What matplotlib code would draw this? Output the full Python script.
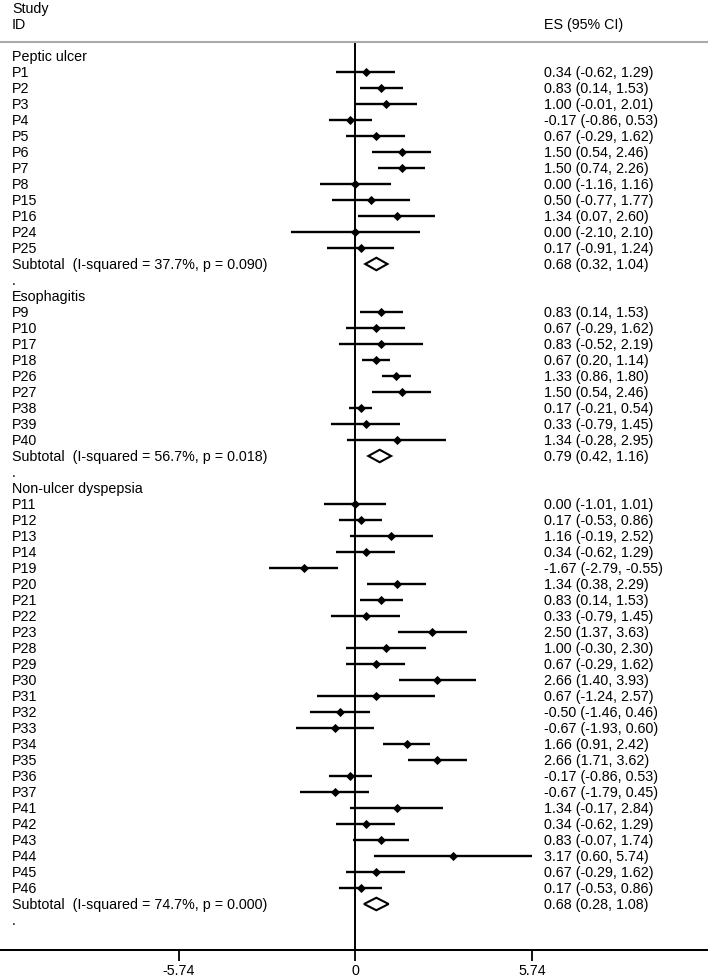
import matplotlib.pyplot as plt
from matplotlib.patches import Polygon

plt.rcParams['font.family'] = ['Liberation Sans', 'DejaVu Sans']

# groups of studies: name, ids, effect sizes, lower / upper 95% CI
group_names = ["Peptic ulcer", "Esophagitis", "Non-ulcer dyspepsia"]

pu_ids = ["P1", "P2", "P3", "P4", "P5", "P6", "P7", "P8", "P15", "P16", "P24", "P25"]
pu_es = [0.34, 0.83, 1.00, -0.17, 0.67, 1.50, 1.50, 0.00, 0.50, 1.34, 0.00, 0.17]
pu_lo = [-0.62, 0.14, -0.01, -0.86, -0.29, 0.54, 0.74, -1.16, -0.77, 0.07, -2.10, -0.91]
pu_hi = [1.29, 1.53, 2.01, 0.53, 1.62, 2.46, 2.26, 1.16, 1.77, 2.60, 2.10, 1.24]

es_ids = ["P9", "P10", "P17", "P18", "P26", "P27", "P38", "P39", "P40"]
es_es = [0.83, 0.67, 0.83, 0.67, 1.33, 1.50, 0.17, 0.33, 1.34]
es_lo = [0.14, -0.29, -0.52, 0.20, 0.86, 0.54, -0.21, -0.79, -0.28]
es_hi = [1.53, 1.62, 2.19, 1.14, 1.80, 2.46, 0.54, 1.45, 2.95]

nu_ids = ["P11", "P12", "P13", "P14", "P19", "P20", "P21", "P22", "P23", "P28",
          "P29", "P30", "P31", "P32", "P33", "P34", "P35", "P36", "P37", "P41",
          "P42", "P43", "P44", "P45", "P46"]
nu_es = [0.00, 0.17, 1.16, 0.34, -1.67, 1.34, 0.83, 0.33, 2.50, 1.00,
         0.67, 2.66, 0.67, -0.50, -0.67, 1.66, 2.66, -0.17, -0.67, 1.34,
         0.34, 0.83, 3.17, 0.67, 0.17]
nu_lo = [-1.01, -0.53, -0.19, -0.62, -2.79, 0.38, 0.14, -0.79, 1.37, -0.30,
         -0.29, 1.40, -1.24, -1.46, -1.93, 0.91, 1.71, -0.86, -1.79, -0.17,
         -0.62, -0.07, 0.60, -0.29, -0.53]
nu_hi = [1.01, 0.86, 2.52, 1.29, -0.55, 2.29, 1.53, 1.45, 3.63, 2.30,
         1.62, 3.93, 2.57, 0.46, 0.60, 2.42, 3.62, 0.53, 0.45, 2.84,
         1.29, 1.74, 5.74, 1.62, 0.86]

sub_i2 = ["37.7%", "56.7%", "74.7%"]
sub_p = ["0.090", "0.018", "0.000"]
sub_es = [0.68, 0.79, 0.68]
sub_lo = [0.32, 0.42, 0.28]
sub_hi = [1.04, 1.16, 1.08]

x_ticks = [-5.74, 0, 5.74]
x_ticklabels = ["-5.74", "0", "5.74"]

groups = [
    (pu_ids, pu_es, pu_lo, pu_hi),
    (es_ids, es_es, es_lo, es_hi),
    (nu_ids, nu_es, nu_lo, nu_hi),
]

fs = 10.3
W, H = 708, 978
fig = plt.figure(figsize=(W / 100, H / 100), dpi=100)
ax = fig.add_axes([0, 27 / H, 1, (951 - 43) / H])
ax.set_xlim(-11.54, 11.45)
ax.set_ylim(55.875, -0.875)

lx = 12 / W
rx = 544 / W
tr = ax.get_yaxis_transform()

def label(y, left, right=None):
    ax.text(lx, y, left, transform=tr, ha="left", va="center", fontsize=fs, clip_on=False)
    if right is not None:
        ax.text(rx, y, right, transform=tr, ha="left", va="center", fontsize=fs, clip_on=False)

label(-3, "Study")
label(-2, "ID", "ES (95% CI)")

row = 0
for g, (ids, es, lo, hi) in enumerate(groups):
    label(row, group_names[g])
    row += 1
    for sid, e, l, h in zip(ids, es, lo, hi):
        ax.plot([l, h], [row, row], color="black", lw=1.7, solid_capstyle="butt")
        ax.plot(e, row, marker="D", ms=3.9, color="black", mew=0.6)
        label(row, sid, f"{e:.2f} ({l:.2f}, {h:.2f})")
        row += 1
    e, l, h = sub_es[g], sub_lo[g], sub_hi[g]
    dh = 0.39
    ax.add_patch(Polygon([(l, row), (e, row - dh), (h, row), (e, row + dh)],
                         closed=True, fill=False, edgecolor="black", lw=1.5))
    label(row, f"Subtotal  (I-squared = {sub_i2[g]}, p = {sub_p[g]})",
          f"{e:.2f} ({l:.2f}, {h:.2f})")
    row += 1
    label(row, ".")
    row += 1

ax.axvline(0, color="black", lw=1.4)

for s in ["left", "right"]:
    ax.spines[s].set_visible(False)
ax.spines["top"].set_color("#aaaaaa")
ax.spines["top"].set_linewidth(1.5)
ax.spines["bottom"].set_linewidth(1.45)

ax.set_yticks([])
ax.set_xticks(x_ticks)
ax.set_xticklabels(x_ticklabels)
ax.tick_params(axis="x", direction="out", length=7.9, width=1.3, pad=1.2, labelsize=fs)

fig.savefig("out.png", dpi=100)
